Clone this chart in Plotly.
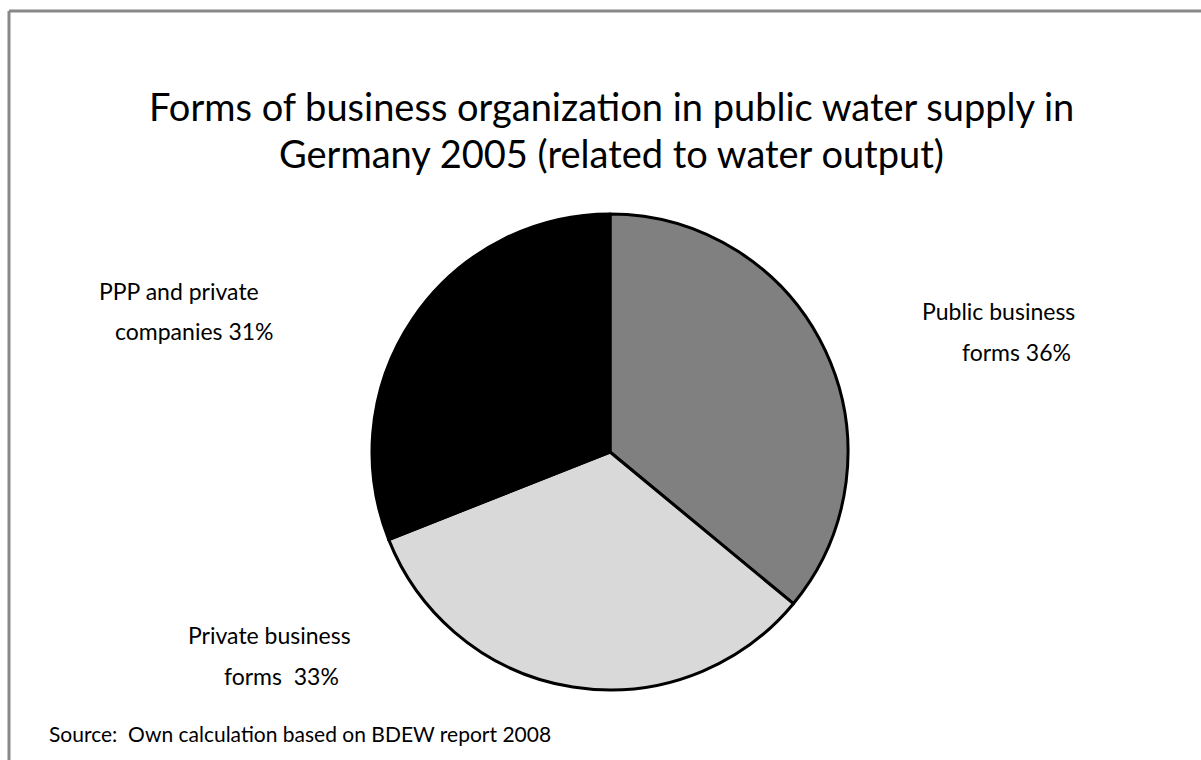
import plotly.graph_objects as go

categories = ["Public business forms", "Private business forms", "PPP and private companies"]
values = [36, 33, 31]
colors = ["#808080", "#d9d9d9", "#000000"]
label_lines = [
    ["Public business", "forms 36%"],
    ["Private business", "forms  33%"],
    ["PPP and private", "companies 31%"],
]
title_lines = ["Forms of business organization in public water supply in",
               "Germany 2005 (related to water output)"]
source_text = "Source:  Own calculation based on BDEW report 2008"

W, H = 1201, 760
FONT = "Lato, Open Sans, sans-serif"

fig = go.Figure(go.Pie(
    labels=categories,
    values=values,
    sort=False,
    direction="clockwise",
    rotation=0,
    marker=dict(colors=colors, line=dict(color="#000000", width=3)),
    textinfo="none",
    hoverinfo="label+percent",
    showlegend=False,
    domain=dict(x=[(610 - 238) / W, (610 + 238) / W], y=[(760 - 452 - 238) / H, (760 - 452 + 238) / H]),
))

def px(x):
    return x / W

def py(y):
    return 1 - y / H

def txt(x, y, s, size, anchor="center"):
    return dict(x=px(x), y=py(y), text=s, font=dict(size=size, color="#000000", family=FONT),
                showarrow=False, xanchor=anchor, yanchor="middle", xref="paper", yref="paper")

label_pos = [
    [(998, 311), (1016, 352)],
    [(269, 635), (281, 676)],
    [(179, 291), (194, 331)],
]

annotations = [txt(611, 106, title_lines[0], 38), txt(611, 153, title_lines[1], 38)]
for lines, poss in zip(label_lines, label_pos):
    for s, (x, y) in zip(lines, poss):
        annotations.append(txt(x, y, s, 23))
annotations.append(txt(47, 733, source_text, 21, anchor="left"))

shapes = [
    dict(type="line", xref="paper", yref="paper", x0=px(9), y0=py(11), x1=px(1201), y1=py(11),
         line=dict(color="#888888", width=3)),
    dict(type="line", xref="paper", yref="paper", x0=px(9), y0=py(11), x1=px(9), y1=py(760),
         line=dict(color="#888888", width=3)),
]

fig.update_layout(
    width=W, height=H,
    margin=dict(l=0, r=0, t=0, b=0),
    paper_bgcolor="#ffffff",
    plot_bgcolor="#ffffff",
    annotations=annotations,
    shapes=shapes,
)

fig.write_html("out.html")
